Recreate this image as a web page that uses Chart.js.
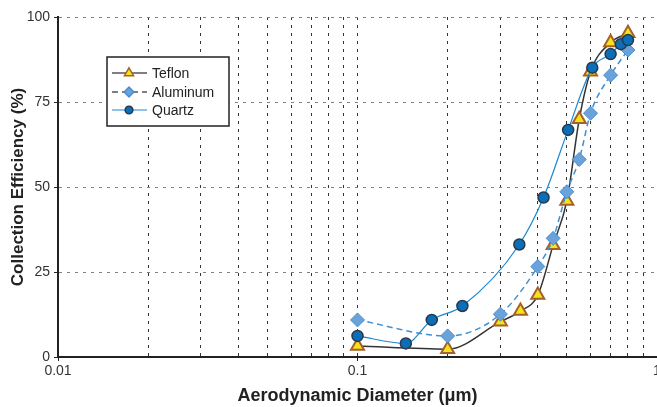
<!DOCTYPE html>
<html>
<head>
<meta charset="utf-8">
<script src="https://cdn.jsdelivr.net/npm/chart.js@4/dist/chart.umd.min.js"></script>
<style>
  body { margin: 0; background: #fff; }
  #wrap { width: 657px; height: 407px; position: relative; }
</style>
</head>
<body>
<div id="wrap"><canvas id="effChart"></canvas></div>
<script>
// Values
const teflonX = [0.1, 0.2, 0.3, 0.35, 0.4, 0.45, 0.5, 0.55, 0.6, 0.7, 0.8];
const teflonY = [3.2, 2.3, 10.4, 13.5, 18.2, 32.9, 45.9, 69.9, 83.9, 92.5, 95.2];

const aluminumX = [0.1, 0.2, 0.3, 0.4, 0.45, 0.5, 0.55, 0.6, 0.7, 0.8];
const aluminumY = [10.9, 6.2, 12.6, 26.6, 34.9, 48.6, 58.1, 71.7, 82.9, 90.3];

const quartzX = [0.1, 0.145, 0.177, 0.224, 0.347, 0.418, 0.505, 0.608, 0.7, 0.757, 0.8];
const quartzY = [6.2, 4.0, 10.9, 15.0, 33.1, 46.9, 66.8, 85.1, 89.1, 92.0, 93.2];

// Axis ticks
const xGridValues = [0.01, 0.02, 0.03, 0.04, 0.05, 0.06, 0.07, 0.08, 0.09,
                     0.1, 0.2, 0.3, 0.4, 0.5, 0.6, 0.7, 0.8, 0.9, 1];
const xTickLabels = [0.01, 0.1, 1];
const yTickValues = [0, 25, 50, 75, 100];

const toPoints = (xs, ys) => xs.map((x, i) => ({ x: x, y: ys[i] }));

Chart.defaults.font.family = "'Liberation Sans', Arial, sans-serif";
Chart.defaults.color = '#333';

// Legend drawn inside the plot area, like the original figure
const boxLegend = {
    id: 'boxLegend',
    afterDraw(chart) {
        const ctx = chart.ctx;
        const left = 107, top = 57, w = 122, h = 69;
        ctx.save();
        ctx.fillStyle = '#fff';
        ctx.fillRect(left, top, w, h);
        ctx.lineWidth = 1.5;
        ctx.strokeStyle = '#222';
        ctx.strokeRect(left, top, w, h);
        const rows = [73, 92, 110];
        const shown = ['Teflon', 'Aluminum', 'Quartz'];
        shown.forEach((name, i) => {
            const ds = chart.data.datasets.find(d => d.label === name);
            const y = rows[i];
            ctx.save();
            ctx.strokeStyle = ds.legendLine;
            ctx.lineWidth = 1.5;
            ctx.setLineDash(ds.borderDash || []);
            ctx.beginPath();
            ctx.moveTo(112, y);
            ctx.lineTo(147, y);
            ctx.stroke();
            ctx.restore();
            ctx.fillStyle = ds.pointBackgroundColor;
            ctx.strokeStyle = ds.pointBorderColor;
            Chart.helpers.drawPoint(ctx, {
                pointStyle: ds.pointStyle,
                radius: ds.pointRadius * 0.7,
                borderWidth: ds.pointBorderWidth,
                rotation: 0
            }, 129, y);
            ctx.fillStyle = '#222';
            ctx.font = "14px 'Liberation Sans', Arial, sans-serif";
            ctx.textBaseline = 'middle';
            ctx.fillText(name, 152, y + 1);
        });
        ctx.restore();
    }
};

const chartData = {
    datasets: [
        {
            label: 'Teflon',
            data: toPoints(teflonX, teflonY),
            borderColor: '#333333',
            legendLine: '#555555',
            borderWidth: 1.5,
            pointStyle: 'triangle',
            pointRadius: 7.5,
            pointBorderWidth: 2,
            pointBackgroundColor: '#f7e21b',
            pointBorderColor: '#a3622a',
            cubicInterpolationMode: 'monotone',
            order: 3
        },
        {
            label: 'Aluminum',
            data: toPoints(aluminumX, aluminumY),
            borderColor: '#3f8fd4',
            legendLine: '#555555',
            borderWidth: 1.5,
            borderDash: [6, 4],
            pointStyle: 'rectRot',
            pointRadius: 7,
            pointBorderWidth: 1,
            pointBackgroundColor: '#6aa3da',
            pointBorderColor: '#4a8fd0',
            cubicInterpolationMode: 'monotone',
            order: 2
        },
        {
            label: 'Quartz',
            data: toPoints(quartzX, quartzY),
            borderColor: '#1a86d0',
            legendLine: '#6aaee0',
            borderWidth: 1.2,
            pointStyle: 'circle',
            pointRadius: 5.5,
            pointBorderWidth: 1.5,
            pointBackgroundColor: '#0b6fb8',
            pointBorderColor: '#26394f',
            cubicInterpolationMode: 'monotone',
            order: 1
        }
    ]
};

const chartConfig = {
    type: 'line',
    data: chartData,
    options: {
        responsive: true,
        maintainAspectRatio: false,
        animation: false,
        layout: { autoPadding: false, padding: { top: 17, right: 0, bottom: 0, left: 0 } },
        plugins: {
            legend: { display: false },
            tooltip: { enabled: false }
        },
        scales: {
            x: {
                type: 'logarithmic',
                min: 0.01,
                max: 1,
                afterBuildTicks: scale => {
                    scale.ticks = xGridValues.map(v => ({ value: v, major: xTickLabels.includes(v) }));
                },
                afterFit: scale => {
                    scale.height = 50;
                    scale.paddingLeft = 0;
                    scale.paddingRight = 0;
                },
                ticks: {
                    autoSkip: false,
                    maxRotation: 0,
                    padding: 2,
                    color: '#333',
                    font: { size: 14 },
                    callback: value => xTickLabels.includes(value) ? String(value) : ''
                },
                grid: {
                    color: c => (c.tick && c.tick.value === 0.01) ? 'rgba(0,0,0,0)' : '#333',
                    lineWidth: 1,
                    tickLength: 4,
                    tickColor: c => (c.tick && xTickLabels.includes(c.tick.value)) ? '#222' : 'rgba(0,0,0,0)'
                },
                border: { display: true, color: '#222', width: 2, dash: [3, 5] },
                title: {
                    display: true,
                    text: 'Aerodynamic Diameter (\u03bcm)',
                    color: '#222',
                    font: { size: 18, weight: 'bold' },
                    padding: { top: 0, bottom: 0 }
                }
            },
            y: {
                min: 0,
                max: 100,
                afterBuildTicks: scale => {
                    scale.ticks = yTickValues.map(v => ({ value: v }));
                },
                afterFit: scale => {
                    scale.width = 58;
                    scale.paddingTop = 0;
                    scale.paddingBottom = 0;
                },
                ticks: {
                    padding: 4,
                    color: '#333',
                    font: { size: 14 }
                },
                grid: {
                    color: c => (c.tick && c.tick.value === 0) ? 'rgba(0,0,0,0)' : '#808080',
                    lineWidth: 1,
                    tickLength: 4,
                    tickColor: '#222'
                },
                border: { display: true, color: '#222', width: 2, dash: [3, 5] },
                title: {
                    display: true,
                    text: 'Collection Efficiency (%)',
                    color: '#222',
                    font: { size: 17, weight: 'bold' },
                    padding: { top: 8, bottom: 0 }
                }
            }
        }
    },
    plugins: [boxLegend]
};

const ctx = document.getElementById('effChart').getContext('2d');
new Chart(ctx, chartConfig);
</script>
</body>
</html>
